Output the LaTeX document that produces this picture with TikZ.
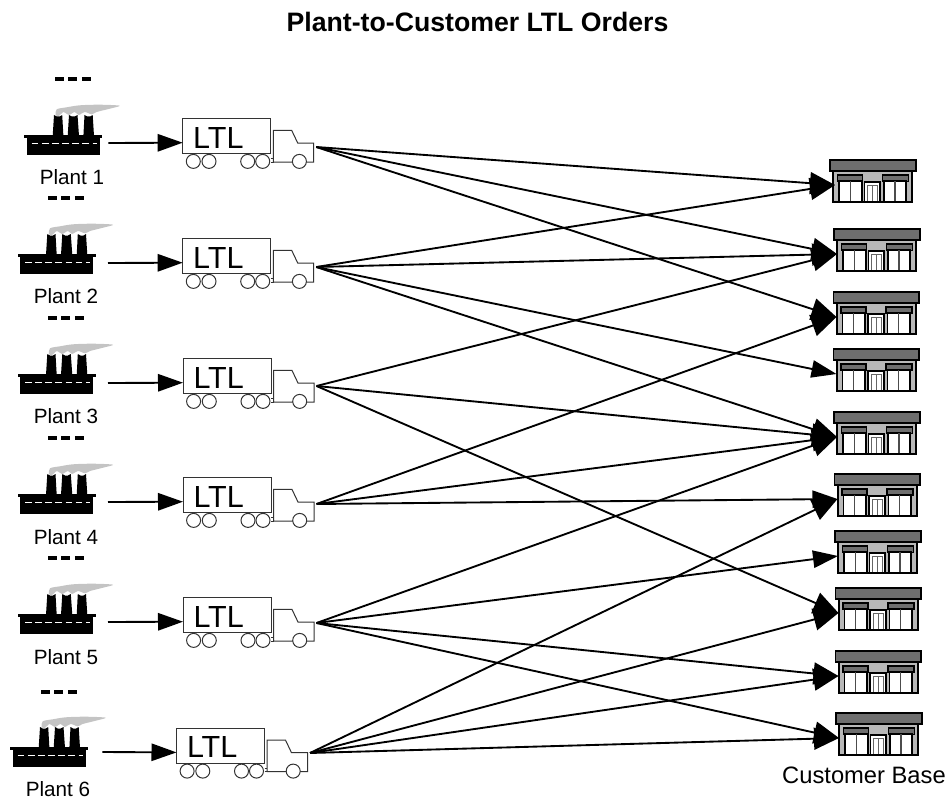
\documentclass[tikz,border=0pt]{standalone}
\usepackage{fontspec}
\setmainfont{Liberation Sans}
\usetikzlibrary{arrows.meta}
\definecolor{smokegray}{HTML}{C4C4C4}
\definecolor{roofgray}{HTML}{6E6E6E}
\definecolor{wallgray}{HTML}{B8B8B8}
\tikzset{
  flow/.style={draw=black,line width=1.4pt,-{Triangle[length=18.75pt,width=13pt]}},
  bigflow/.style={draw=black,line width=1.4pt,-{Triangle[length=18.75pt,width=16.5pt]}},
  label/.style={inner sep=0pt,font=\fontsize{15.5pt}{18pt}\selectfont},
  gapdash/.style={draw=black,line width=2.6pt,dash pattern=on 6.5pt off 3.6pt},
  outline/.style={draw=black!80,line width=0.75pt},
  pics/truck/.style={code={
    \draw[outline,fill=white] (88,40) -- (91,40) (88,43.3) -- (91,43.3);
    \draw[outline,fill=white] (0,0) rectangle (88,35);
    \draw[outline,fill=white] (90.7,11.7) -- (109,11.7) -- (115,24.3) -- (131,24.3) -- (131,43.3) -- (90.7,43.3) -- cycle;
    \foreach \wx in {10.6,26.3,65,80,116.7}
      \draw[outline,fill=white] (\wx,42.7) circle [radius=7];
    \node[inner sep=0pt,font=\fontsize{22.9pt}{26pt}\selectfont] (-lbl) at (35.7,18.8) {LTL};
    \coordinate (-in) at (0,24);
    \coordinate (-out) at (133.5,#1);
  }},
  pics/plant/.style={code={
    \fill[smokegray] plot[smooth cycle,tension=0.5] coordinates {(29,-40) (30,-45.7) (40,-47.7) (53,-49.7) (73,-50.3) (93,-49.3) (83,-46.3) (70,-43) (65,-40.7) (58,-43) (52,-40) (48,-43) (42,-40) (37,-43) (32,-39)};
    \fill[black] (26,-19) -- (27.3,-40) -- (30,-38.5) -- (33,-38.5) -- (35.5,-40) -- (36.7,-19) -- cycle;
    \fill[black] (41,-19) -- (42.3,-40) -- (45,-38.5) -- (48,-38.5) -- (50.8,-40) -- (52.3,-19) -- cycle;
    \fill[black] (56.7,-19) -- (57.8,-40) -- (60.5,-38.5) -- (63.5,-38.5) -- (66,-40) -- (67.3,-19) -- cycle;
    \fill[black] (-2.3,-19.7) rectangle (75.7,-17);
    \fill[black] (0,-18) rectangle (73,0);
    \draw[white,line width=0.7pt,dash pattern=on 5pt off 2.6pt] (5,-12) -- (70,-12);
  }},
  pics/store/.style={code={
    \draw[black,line width=1.3pt,fill=wallgray] (3.3,11.3) rectangle (82.3,42.3);
    \draw[black,line width=1.3pt,fill=roofgray] (0,0) rectangle (85.7,11.3);
    \draw[black,line width=1.1pt,fill=roofgray] (7.3,15) rectangle (32.7,21.3);
    \draw[black,line width=1.1pt,fill=roofgray] (52.7,15) rectangle (78.7,21.3);
    \draw[black,line width=1.3pt,fill=white] (9,21.3) rectangle (31.7,41.8);
    \draw[black,line width=1.3pt,fill=white] (54,21.3) rectangle (76.3,41.8);
    \draw[black!70,line width=0.8pt] (20.3,21.3) -- (20.3,41.8) (65,21.3) -- (65,41.8);
    \draw[black,line width=1.3pt,fill=white] (34.5,22) rectangle (50.2,41.8);
    \draw[black!60,line width=0.6pt] (37.5,41.8) -- (37.5,25.5) -- (47.5,25.5) -- (47.5,41.8) (42.5,25.5) -- (42.5,41.8);
    \draw[black,line width=1.6pt] (3.3,42.3) -- (82.3,42.3);
    \coordinate (-in) at (#1,25);
  }},
}
\begin{document}
\begin{tikzpicture}[x=0.75pt,y=-0.75pt]
\useasboundingbox (0,0) rectangle (950,799);
\node[inner sep=0pt,font=\bfseries\fontsize{20pt}{24pt}\selectfont] (title) at (477.5,22) {Plant-to-Customer LTL Orders};

% dashed marks
\draw[gapdash] (55,79) -- (92,79);
\draw[gapdash] (48,198) -- (86,198);
\draw[gapdash] (48,318) -- (86,318);
\draw[gapdash] (48,438) -- (86,438);
\draw[gapdash] (48,558) -- (86,558);
\draw[gapdash] (41,692) -- (78,692);

% plants
\pic (p1) at (26.7,155) {plant};
\pic (p2) at (20,274) {plant};
\pic (p3) at (20,394) {plant};
\pic (p4) at (20,514) {plant};
\pic (p5) at (20,634) {plant};
\pic (p6) at (12.7,767) {plant};
\node[label] (pl1) at (72,177) {Plant 1};
\node[label] (pl2) at (66,296) {Plant 2};
\node[label] (pl3) at (66,416) {Plant 3};
\node[label] (pl4) at (66,537) {Plant 4};
\node[label] (pl5) at (66,657) {Plant 5};
\node[label] (pl6) at (58,789) {Plant 6};

% trucks
\pic (t1) at (182.7,118.7) {truck=28.3};
\pic (t2) at (182.7,238.7) {truck=28.3};
\pic (t3) at (183,358.7) {truck=27.3};
\pic (t4) at (183,477.7) {truck=26.3};
\pic (t5) at (183,597.7) {truck=25.3};
\pic (t6) at (176.5,728.4) {truck=24.6};

% stores
\pic (s1) at (830,160) {store=5};
\pic (s2) at (834,229) {store=3};
\pic (s3) at (833.5,292) {store=3};
\pic (s4) at (833.5,349) {store=3};
\pic (s5) at (834,412) {store=3};
\pic (s6) at (834.5,474) {store=3};
\pic (s7) at (835,531) {store=3};
\pic (s8) at (835.5,588) {store=3};
\pic (s9) at (835.5,651) {store=3};
\pic (s10) at (836,713) {store=3};
\node[label,font=\fontsize{17.8pt}{20pt}\selectfont] (base) at (864,775) {Customer Base};

% plant to truck
\coordinate (a1) at (108.3,143);
\coordinate (a2) at (108,263);
\coordinate (a3) at (108,383);
\coordinate (a4) at (108,502);
\coordinate (a5) at (108,622);
\coordinate (a6) at (102.3,752);
\foreach \i in {1,...,6} \draw[flow] (a\i) -- (t\i-in);

% truck to store
\foreach \t/\s in {2/4,5/7,4/6}
  \draw[flow] (t\t-out) -- (s\s-in);
\foreach \t/\s in {1/1,1/2,1/3,2/1,2/2,2/5,3/2,3/5,3/8,4/3,4/5,5/5,5/9,5/10,6/6,6/8,6/9,6/10}
  \draw[bigflow] (t\t-out) -- (s\s-in);
\end{tikzpicture}
\end{document}
